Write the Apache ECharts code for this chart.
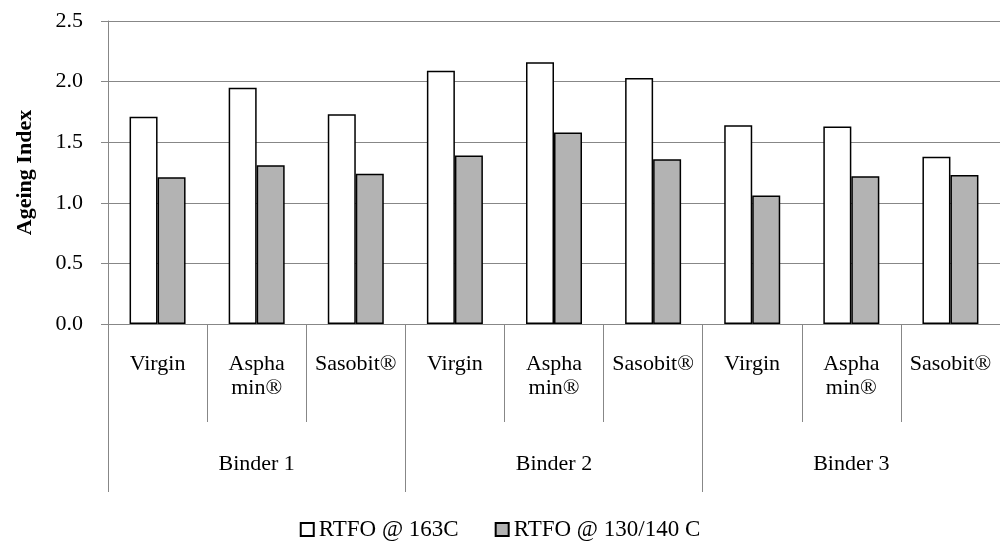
<!DOCTYPE html>
<html>
<head>
<meta charset="utf-8">
<script src="https://cdn.jsdelivr.net/npm/echarts@6/dist/echarts.min.js"></script>
<style>html,body{margin:0;padding:0;background:#fff}#c{width:1000px;height:542px}</style>
</head>
<body>
<div id="c"></div>
<script>
const subCategories = ['Virgin','Aspha\nmin®','Sasobit®','Virgin','Aspha\nmin®','Sasobit®','Virgin','Aspha\nmin®','Sasobit®'];
const groups = ['Binder 1','Binder 2','Binder 3'];
const seriesNames = ['RTFO @ 163C','RTFO @ 130/140 C'];
const rtfo163 = [1.71, 1.95, 1.73, 2.09, 2.16, 2.03, 1.64, 1.63, 1.38];
const rtfo130 = [1.21, 1.31, 1.24, 1.39, 1.58, 1.36, 1.06, 1.22, 1.23];
const yTicks = [0, 0.5, 1.0, 1.5, 2.0, 2.5];

const FONT = '"Liberation Serif", serif';
const GRID_GRAY = '#878787';
const FS = 22;
const chart = echarts.init(document.getElementById('c'), null, {renderer:'canvas'});
chart.setOption({
  animation: false,
  backgroundColor: '#ffffff',
  textStyle: {fontFamily: FONT},
  grid: {left: 108, top: 21, width: 898, height: 303, containLabel: false},
  legend: {
    top: 513, left: 'center',
    icon: 'rect', itemWidth: 13, itemHeight: 13, itemGap: 36,
    textStyle: {fontFamily: FONT, fontSize: 23, color: '#000'},
    data: seriesNames
  },
  xAxis: [
    {
      type: 'category', data: subCategories, position: 'bottom',
      axisLine: {show: true, lineStyle: {color: GRID_GRAY, width: 1}},
      axisTick: {show: true, length: 98, interval: 0, lineStyle: {color: GRID_GRAY, width: 1}},
      axisLabel: {interval: 0, margin: 28, fontFamily: FONT, fontSize: FS, color: '#000', lineHeight: 24}
    },
    {
      type: 'category', data: groups, position: 'bottom',
      axisLine: {show: false},
      axisTick: {show: true, length: 168, interval: 0, lineStyle: {color: GRID_GRAY, width: 1}},
      axisLabel: {interval: 0, margin: 129, fontFamily: FONT, fontSize: FS, color: '#000'}
    }
  ],
  yAxis: {
    type: 'value', min: yTicks[0], max: yTicks[yTicks.length-1], interval: 0.5,
    name: 'Ageing Index', nameLocation: 'middle', nameGap: 72, nameRotate: 90,
    nameTextStyle: {fontFamily: FONT, fontSize: FS, fontWeight: 'bold', color: '#000'},
    axisLine: {show: true, lineStyle: {color: GRID_GRAY, width: 1}},
    axisTick: {show: true, length: 7, lineStyle: {color: GRID_GRAY, width: 1}},
    splitLine: {show: true, lineStyle: {color: GRID_GRAY, width: 1}},
    axisLabel: {margin: 25, fontFamily: FONT, fontSize: FS, color: '#000', formatter: v => v.toFixed(1)}
  },
  series: [
    {
      name: seriesNames[0], type: 'bar', data: rtfo163, barWidth: 28, barGap: '0%',
      itemStyle: {color: '#ffffff', borderColor: '#000000', borderWidth: 1.5}
    },
    {
      name: seriesNames[1], type: 'bar', data: rtfo130, barWidth: 28, barGap: '0%',
      itemStyle: {color: '#b3b3b3', borderColor: '#000000', borderWidth: 1.5}
    }
  ]
});
</script>
</body>
</html>
